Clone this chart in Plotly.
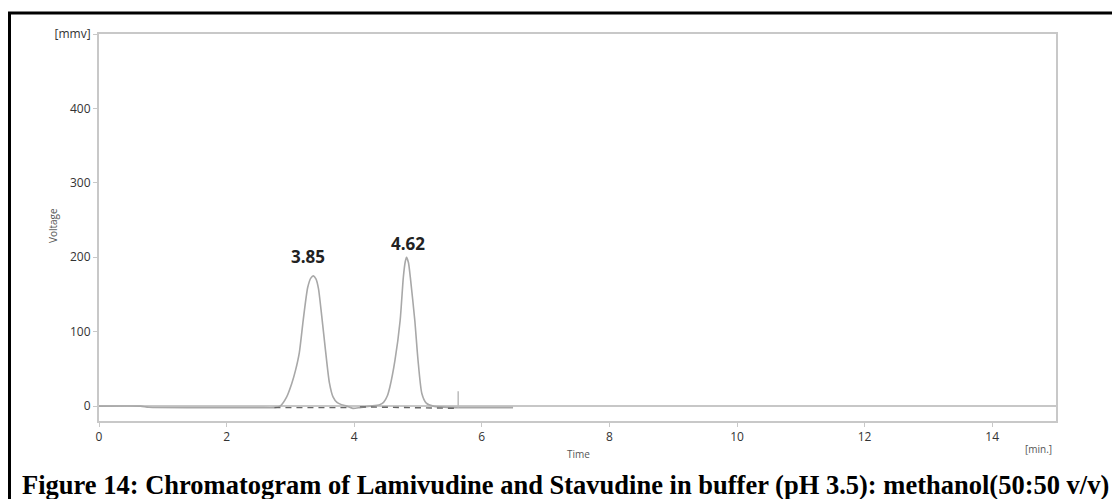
import plotly.graph_objects as go

# Chromatogram trace (time in min, voltage in mV)
time_min = [0.0, 0.65, 0.78, 1.5, 2.5, 2.75, 2.84, 2.94, 3.02, 3.08, 3.14, 3.20, 3.27, 3.32, 3.36,
            3.40, 3.44, 3.49, 3.55, 3.61, 3.67, 3.73, 3.80, 3.88, 3.98, 4.09, 4.25, 4.40, 4.46,
            4.52, 4.56, 4.64, 4.72, 4.77, 4.80, 4.82, 4.85, 4.88, 4.95, 5.00, 5.06, 5.13, 5.24,
            5.6, 6.0, 6.49]
voltage_mv = [0.0, 0.0, -1.5, -2.0, -2.0, -2.0, 0.0, 12, 30, 48, 72, 115, 159, 172, 175,
              171, 158, 122, 75, 32, 12, 5, 2, 0, -3, -2, 0, 2, 5,
              14, 26, 62, 115, 173, 194, 200, 193, 173, 115, 62, 17, 4, 0,
              -2, -2, -2]

# Integration baselines (dashed)
base1_t = [2.75, 3.90]
base1_v = [-2, -2]
base2_t = [4.09, 5.63]
base2_v = [-1, -3]
# Peak-end marker
marker_t = [5.63, 5.63]
marker_v = [-2, 20]

# Peak labels
peak_labels = ["3.85", "4.62"]
peak_label_t = [3.28, 4.84]
peak_label_v = [201, 218]

x_ticks = [0, 2, 4, 6, 8, 10, 12, 14]
y_ticks = [0, 100, 200, 300, 400, 500]
y_tick_text = ["0", "100", "200", "300", "400", "[mmv]"]

# page has an 8px body margin; figure coordinates = page coordinates - 8
OFF = 8
W, H = 1120 - OFF, 499 - OFF
L, R, T, B = 99 - OFF, 64, 34 - OFF, 78
pw, ph = W - L - R, H - T - B

def px(xp):  # page pixel -> paper x
    return (xp - OFF - L) / pw

def py(yp):  # page pixel -> paper y
    return (H - B - (yp - OFF)) / ph

fig = go.Figure()

fig.add_trace(go.Scatter(x=[0, 15], y=[0, 0], mode="lines",
                         line=dict(color="#b5b5b5", width=1.5), hoverinfo="skip"))
fig.add_trace(go.Scatter(x=time_min, y=voltage_mv, mode="lines",
                         line=dict(color="#a8a8a8", width=1.6, shape="spline", smoothing=0.6)))
fig.add_trace(go.Scatter(x=base1_t, y=base1_v, mode="lines",
                         line=dict(color="#666666", width=1.4, dash="6px,5px")))
fig.add_trace(go.Scatter(x=base2_t, y=base2_v, mode="lines",
                         line=dict(color="#666666", width=1.4, dash="6px,5px")))
fig.add_trace(go.Scatter(x=marker_t, y=marker_v, mode="lines",
                         line=dict(color="#bbbbbb", width=1.5)))

annotations = []
for lab, t, v in zip(peak_labels, peak_label_t, peak_label_v):
    annotations.append(dict(x=t, y=v, xref="x", yref="y", text="<b>" + lab + "</b>",
                            showarrow=False, font=dict(family="Open Sans", size=17, color="#222")))

annotations += [
    dict(x=px(44), y=py(226), xref="paper", yref="paper", text="Voltage", textangle=-90,
         showarrow=False, font=dict(family="Open Sans", size=10, color="#555")),
    dict(x=px(578), y=py(463), xref="paper", yref="paper", text="Time",
         showarrow=False, font=dict(family="Open Sans", size=10, color="#555")),
    dict(x=px(1054), y=py(458), xref="paper", yref="paper", text="[min.]",
         showarrow=False, font=dict(family="Open Sans", size=10, color="#555")),
    dict(x=px(20), y=py(485), xref="paper", yref="paper", xanchor="left", yanchor="middle",
         text="<b>Figure 14: Chromatogram of Lamivudine and Stavudine in buffer (pH 3.5): methanol(50:50 v/v)</b>",
         showarrow=False, font=dict(family="Liberation Serif", size=26.5, color="#000")),
]

shapes = [
    dict(type="line", xref="paper", yref="paper", x0=px(8), x1=px(1125), y0=py(13), y1=py(13),
         line=dict(color="#000", width=3)),
    dict(type="line", xref="paper", yref="paper", x0=px(9.5), x1=px(9.5), y0=py(12), y1=py(505),
         line=dict(color="#000", width=3)),
]

fig.update_layout(
    width=W, height=H,
    margin=dict(l=L, r=R, t=T, b=B),
    paper_bgcolor="white", plot_bgcolor="white",
    showlegend=False,
    annotations=annotations, shapes=shapes,
    xaxis=dict(range=[0, 15], tickvals=x_ticks, showgrid=False, zeroline=False,
               showline=True, mirror=True, linecolor="#c8c8c8", linewidth=2,
               ticks="outside", ticklen=4, tickcolor="#c8c8c8",
               tickfont=dict(family="Open Sans", size=12, color="#333")),
    yaxis=dict(range=[-20, 500], tickvals=y_ticks, ticktext=y_tick_text, showgrid=False,
               zeroline=False, showline=True, mirror=True, linecolor="#c8c8c8", linewidth=2,
               ticks="outside", ticklen=4, tickcolor="#c8c8c8",
               tickfont=dict(family="Open Sans", size=12, color="#333")),
)

fig.write_html("out.html")
